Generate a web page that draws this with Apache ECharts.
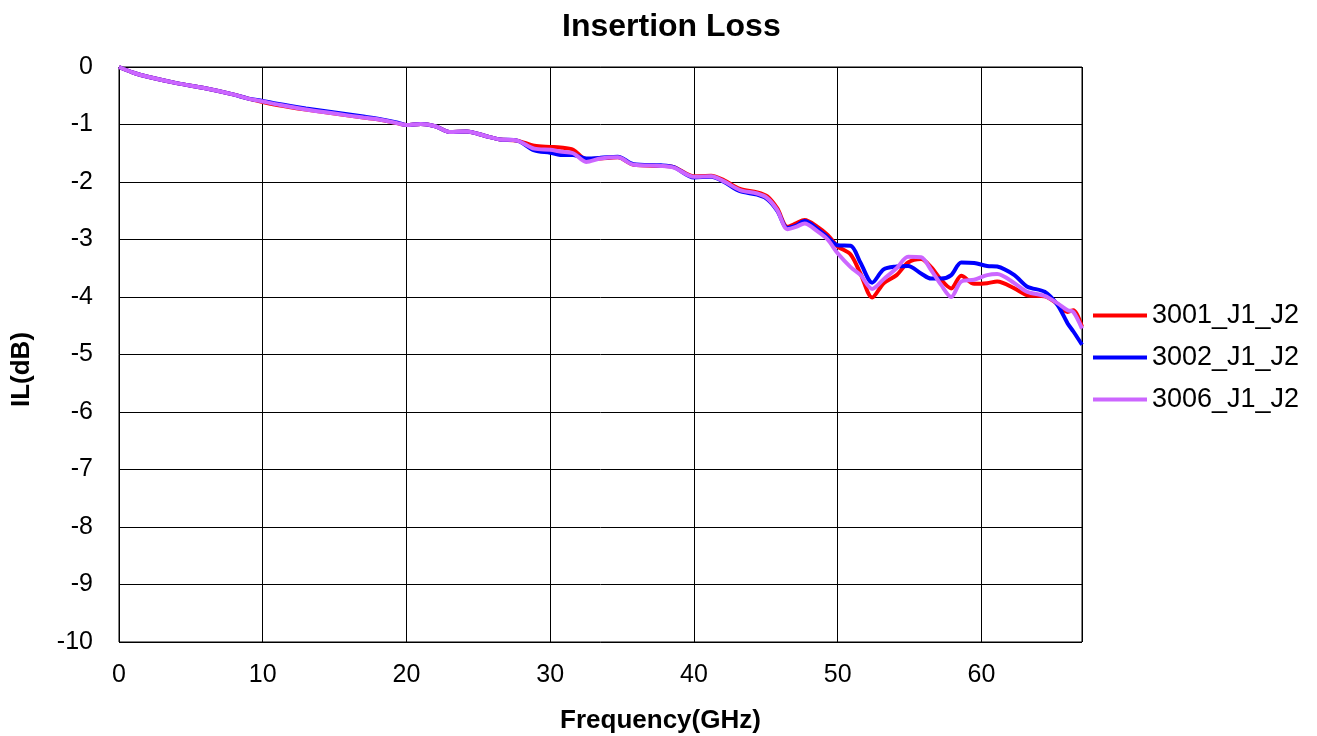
<!DOCTYPE html>
<html>
<head>
<meta charset="utf-8">
<script src="https://cdn.jsdelivr.net/npm/echarts@6/dist/echarts.min.js"></script>
<style>
  html, body { margin: 0; padding: 0; background: #fff; }
  #chart { width: 1317px; height: 736px; }
</style>
</head>
<body>
<div id="chart"></div>
<script>
const freq = [0, 1, 2, 4, 6, 8, 9, 10, 11, 13, 15, 17, 18, 19.4, 20, 21, 22, 23, 24.2, 25.5, 26.5, 27.7,
  28.9, 30, 30.7, 31.6, 32.5, 33.5, 34.7, 35.8, 37.7, 38.6, 40, 41.2, 42.1, 43.2, 44.4, 45.1, 45.8,
  46.5, 47.1, 47.7, 48.6, 49.3, 50, 50.9, 51.6, 52.4, 53.2, 54.1, 54.9, 55.8, 56.5, 57.2, 57.9, 58.6,
  59.5, 60.4, 61.1, 62.3, 63.2, 64.4, 65.3, 66, 66.4, 67]

const il3001 = [0, -0.10, -0.17, -0.28, -0.37, -0.48, -0.55, -0.61, -0.66, -0.74, -0.81, -0.88, -0.91, -0.98, -1.01, -0.99, -1.03, -1.13, -1.12, -1.20, -1.26, -1.28,
  -1.37, -1.39, -1.40, -1.44, -1.60, -1.59, -1.57, -1.70, -1.72, -1.74, -1.90, -1.89, -1.97, -2.12, -2.18, -2.25, -2.46,
  -2.78, -2.72, -2.66, -2.78, -2.92, -3.12, -3.26, -3.60, -4.01, -3.76, -3.62, -3.40, -3.34, -3.48, -3.70, -3.85, -3.63,
  -3.77, -3.76, -3.73, -3.85, -3.97, -3.99, -4.12, -4.26, -4.23, -4.52]

const il3002 = [0, -0.10, -0.17, -0.28, -0.37, -0.48, -0.55, -0.59, -0.64, -0.72, -0.79, -0.86, -0.90, -0.97, -1.01, -0.99, -1.03, -1.13, -1.12, -1.20, -1.26, -1.28,
  -1.45, -1.49, -1.53, -1.53, -1.59, -1.58, -1.56, -1.69, -1.71, -1.74, -1.92, -1.91, -2.00, -2.16, -2.22, -2.30, -2.50,
  -2.80, -2.76, -2.68, -2.82, -2.96, -3.10, -3.11, -3.41, -3.75, -3.52, -3.47, -3.46, -3.59, -3.68, -3.68, -3.62, -3.40,
  -3.41, -3.46, -3.47, -3.62, -3.82, -3.91, -4.14, -4.46, -4.60, -4.83]

const il3006 = [0, -0.10, -0.17, -0.28, -0.37, -0.48, -0.55, -0.60, -0.65, -0.74, -0.81, -0.88, -0.91, -0.98, -1.01, -0.99, -1.03, -1.13, -1.12, -1.20, -1.26, -1.28,
  -1.42, -1.44, -1.47, -1.50, -1.65, -1.59, -1.57, -1.70, -1.72, -1.75, -1.91, -1.90, -1.99, -2.14, -2.20, -2.28, -2.49,
  -2.82, -2.78, -2.72, -2.86, -3.00, -3.24, -3.48, -3.62, -3.86, -3.69, -3.50, -3.30, -3.31, -3.53, -3.79, -4.00, -3.73,
  -3.70, -3.62, -3.60, -3.76, -3.91, -3.98, -4.11, -4.23, -4.26, -4.55]

const seriesNames = ['3001_J1_J2', '3002_J1_J2', '3006_J1_J2']
const seriesColors = ['#ff0000', '#0000ff', '#cc66ff']
const seriesValues = [il3001, il3002, il3006]

const font = 'Liberation Sans, Arial, sans-serif'
const chart = echarts.init(document.getElementById('chart'))

chart.setOption({
  animation: false,
  title: {
    text: 'Insertion Loss',
    left: 557,
    top: 6,
    textStyle: { fontFamily: font, fontSize: 32, fontWeight: 'bold', color: '#000' }
  },
  legend: {
    orient: 'vertical',
    left: 1088,
    top: 297,
    icon: 'rect',
    itemWidth: 54,
    itemHeight: 4,
    itemGap: 15,
    textStyle: { fontFamily: font, fontSize: 27, color: '#000' },
    data: seriesNames
  },
  grid: {
    left: 119, top: 67, width: 963, height: 575,
    outerBoundsMode: 'none',
    containLabel: false,
    show: true, borderColor: '#000', borderWidth: 1
  },
  xAxis: {
    type: 'value',
    min: 0, max: 67, interval: 10,
    name: 'Frequency(GHz)',
    nameLocation: 'middle',
    nameGap: 66,
    nameTextStyle: { fontFamily: font, fontSize: 26, fontWeight: 'bold', color: '#000', padding: [0, 0, 0, 120] },
    axisLine: { lineStyle: { color: '#000', width: 1 } },
    axisTick: { show: false },
    axisLabel: { fontFamily: font, fontSize: 25, color: '#000', margin: 21, showMaxLabel: false },
    splitLine: { lineStyle: { color: '#000', width: 1 } }
  },
  yAxis: {
    type: 'value',
    min: -10, max: 0, interval: 1,
    name: 'IL(dB)',
    nameLocation: 'middle',
    nameGap: 84,
    nameTextStyle: { fontFamily: font, fontSize: 26, fontWeight: 'bold', color: '#000', padding: [0, 30, 0, 0] },
    axisLine: { show: true, lineStyle: { color: '#000', width: 1 } },
    axisTick: { show: false },
    axisLabel: { fontFamily: font, fontSize: 25, color: '#000', margin: 26 },
    splitLine: { lineStyle: { color: '#000', width: 1 } }
  },
  series: seriesNames.map((name, i) => ({
    name,
    type: 'line',
    showSymbol: false,
    smooth: 0.3,
    color: seriesColors[i],
    lineStyle: { width: 4, color: seriesColors[i] },
    data: freq.map((f, j) => [f, seriesValues[i][j]])
  }))
})
</script>
</body>
</html>
